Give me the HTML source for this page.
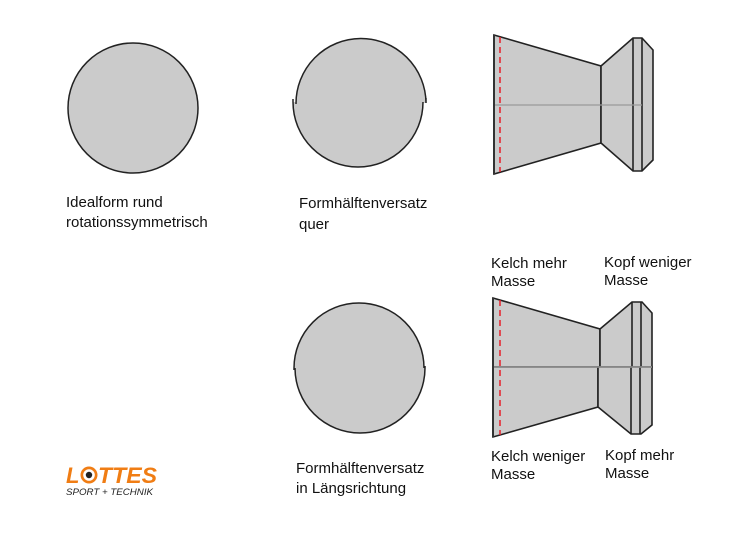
<!DOCTYPE html>
<html><head><meta charset="utf-8"><style>
html,body{margin:0;padding:0;background:#fff;}
svg{display:block;}
text{font-family:"Liberation Sans",Arial,sans-serif;font-size:15px;fill:#111;}
</style></head><body>
<svg width="733" height="550" viewBox="0 0 733 550" xmlns="http://www.w3.org/2000/svg">
<!-- ideal circle -->
<circle cx="133" cy="108" r="65" fill="#cbcbcb" stroke="#222" stroke-width="1.5"/>
<!-- quer -->
<path d="M296,103 A65,65 0 0 1 426,103 Z" fill="#cbcbcb"/>
<path d="M293,102 A65,65 0 0 0 423,102 Z" fill="#cbcbcb"/>
<path d="M296,104 A65,65 0 0 1 426,103 L426,98" fill="none" stroke="#222" stroke-width="1.5"/>
<path d="M293,99 L293,102 A65,65 0 0 0 423,102" fill="none" stroke="#222" stroke-width="1.5"/>
<!-- laengs -->
<path d="M294,368 A65,65 0 0 1 424,368 Z" fill="#cbcbcb"/>
<path d="M295,368 A65,65 0 0 0 425,368 Z" fill="#cbcbcb"/>
<path d="M294,370 L294,368 A65,65 0 0 1 424,368" fill="none" stroke="#222" stroke-width="1.5"/>
<path d="M295,368 A65,65 0 0 0 425,368 L425,366" fill="none" stroke="#222" stroke-width="1.5"/>
<!-- pellet top -->
<g stroke="#222" stroke-width="1.6" stroke-linejoin="miter">
<path d="M494,35 L601,66 L601,143 L494,174 Z" fill="#cbcbcb"/>
<path d="M601,66 L633,38 L642,38 L653,50 L653,160 L642,171 L633,171 L601,143 Z" fill="#cbcbcb"/>
<line x1="633" y1="38" x2="633" y2="171"/>
<line x1="642" y1="38" x2="642" y2="171"/>
</g>
<line x1="494" y1="105" x2="642" y2="105" stroke="#999" stroke-width="1.2"/>
<line x1="500" y1="37" x2="500" y2="172" stroke="#e8202a" stroke-width="1.5" stroke-dasharray="6,4"/>
<line x1="494" y1="35" x2="494" y2="174" stroke="#333" stroke-width="2"/>
<!-- pellet bottom -->
<g stroke="#222" stroke-width="1.6">
<path d="M493,298 L600,329 L600,367 L493,367 Z" fill="#cbcbcb"/>
<path d="M493,367 L598,367 L598,407 L493,437 Z" fill="#cbcbcb"/>
<path d="M600,329 L632,302 L642,302 L652,313 L652,367 L600,367 Z" fill="#cbcbcb"/>
<path d="M598,367 L652,367 L652,425 L641,434 L631,434 L598,407 Z" fill="#cbcbcb"/>
<line x1="632" y1="302" x2="632" y2="367"/>
<line x1="641" y1="302" x2="641" y2="367"/>
<line x1="631" y1="367" x2="631" y2="434"/>
<line x1="640" y1="367" x2="640" y2="434"/>
</g>
<line x1="493" y1="367" x2="652" y2="367" stroke="#999" stroke-width="1.5"/>
<line x1="500" y1="300" x2="500" y2="435" stroke="#e8202a" stroke-width="1.5" stroke-dasharray="6,4"/>
<line x1="493" y1="298" x2="493" y2="437" stroke="#333" stroke-width="2"/>
<!-- labels -->
<text x="66" y="207">Idealform rund</text>
<text x="66" y="227">rotationssymmetrisch</text>
<text x="299" y="208">Formhälftenversatz</text>
<text x="299" y="229">quer</text>
<text x="491" y="268">Kelch mehr</text>
<text x="491" y="286">Masse</text>
<text x="604" y="267">Kopf weniger</text>
<text x="604" y="285">Masse</text>
<text x="296" y="473">Formhälftenversatz</text>
<text x="296" y="493">in Längsrichtung</text>
<text x="491" y="461">Kelch weniger</text>
<text x="491" y="479">Masse</text>
<text x="605" y="460">Kopf mehr</text>
<text x="605" y="478">Masse</text>
<!-- logo -->
<text x="66" y="483" style="font-size:22px;font-weight:bold;font-style:italic;fill:#f07d14">L</text>
<circle cx="89" cy="475" r="8.5" fill="#f07d14"/>
<circle cx="89" cy="475" r="5.8" fill="#fff"/>
<circle cx="89" cy="475" r="3.2" fill="#222"/>
<text x="98" y="483" style="font-size:22px;font-weight:bold;font-style:italic;fill:#f07d14" textLength="59" lengthAdjust="spacingAndGlyphs">TTES</text>
<text x="66" y="495" style="font-size:9.6px;font-style:italic;fill:#222" textLength="87" lengthAdjust="spacingAndGlyphs">SPORT + TECHNIK</text>
</svg>
</body></html>
